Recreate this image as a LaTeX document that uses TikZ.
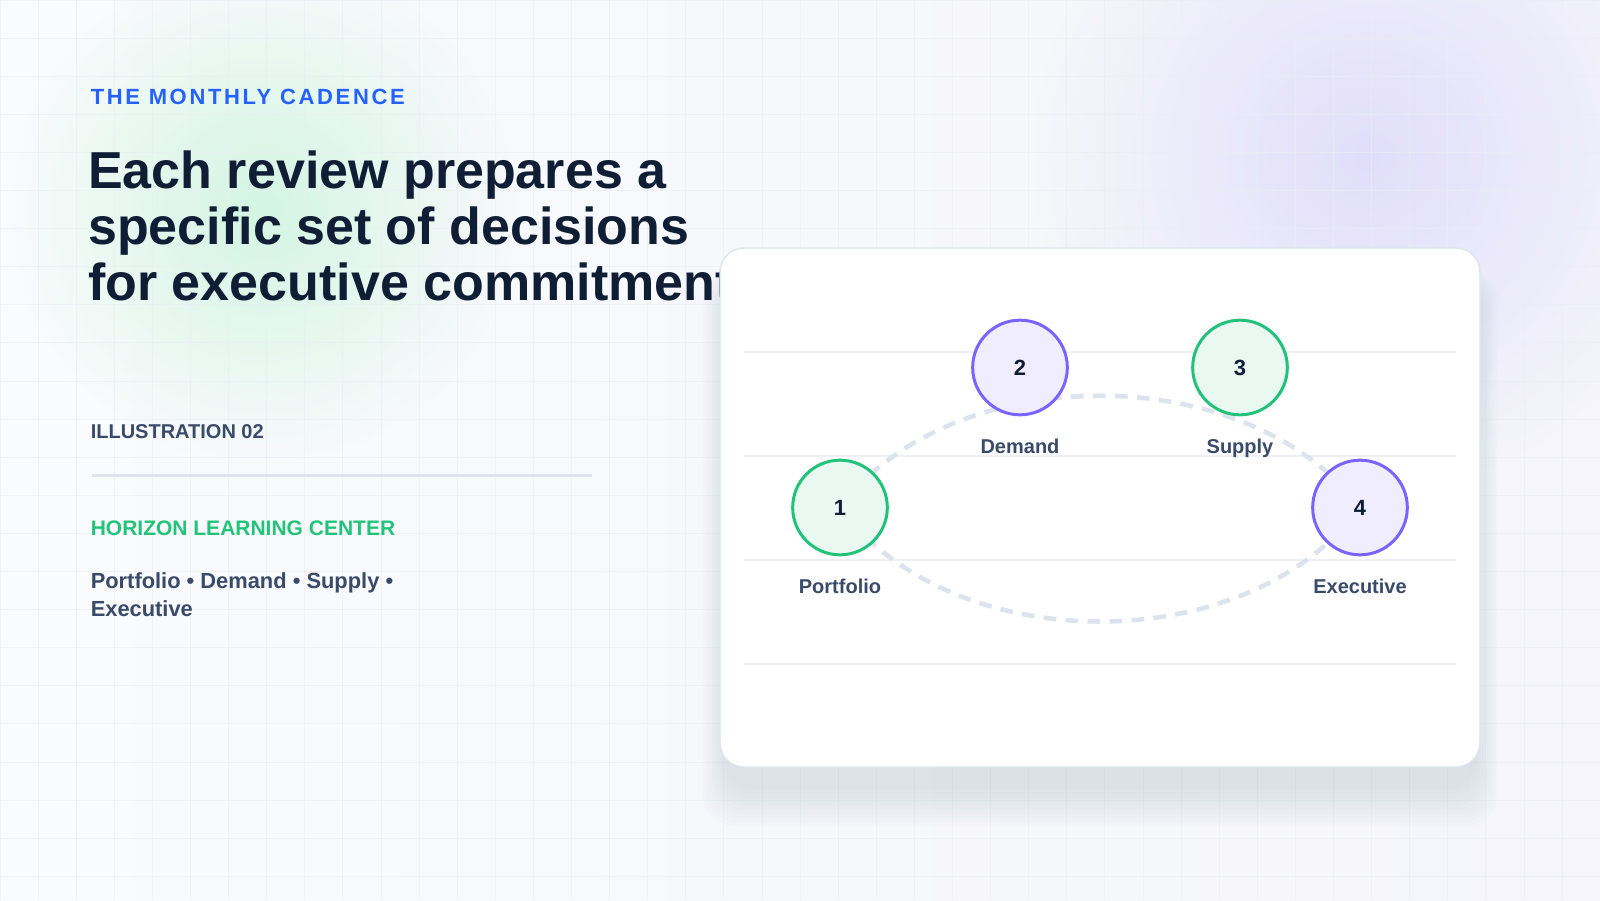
\documentclass[tikz,border=0pt]{standalone}
\usepackage{fontspec}
\setmainfont{Liberation Sans}
\newfontfamily\spacedfont[LetterSpace=12]{Liberation Sans}
\usepackage{tikz}
\usetikzlibrary{positioning}
\usetikzlibrary{fadings}
\definecolor{ink}{HTML}{0F1D35}
\definecolor{slate}{HTML}{3A4A69}
\definecolor{kickerblue}{HTML}{2461FF}
\definecolor{brandgreen}{HTML}{22C47A}
\definecolor{mint}{HTML}{23C27B}
\definecolor{mintfill}{HTML}{E9F9F2}
\definecolor{lilac}{HTML}{7A64FF}
\definecolor{lilacfill}{HTML}{EFEDFF}
\definecolor{dashc}{HTML}{DCE3EC}
\definecolor{rulec}{HTML}{EDF1F6}
\definecolor{dividerc}{HTML}{DDE4EE}
\definecolor{cardline}{HTML}{DEE5EE}
\definecolor{shadowc}{HTML}{64748B}
\definecolor{gridc}{HTML}{E9EEF4}
\definecolor{bgleft}{HTML}{F9FBFC}
\definecolor{bgright}{HTML}{F5F5FB}
\definecolor{glowgreen}{HTML}{D3F5E2}
\definecolor{glowlilac}{HTML}{E2DEFA}
\pgfdeclarelayer{bg}
\pgfdeclarelayer{links}
\pgfsetlayers{bg,links,main}
\tikzfading[name = glowfade, inner color = transparent!0, outer color = transparent!100]
\tikzset{phase/.style = {circle, line width = 2.25pt, minimum size = 71pt, inner sep = 0,
                         font = \fontsize{16.5}{18}\selectfont\bfseries, text = ink}}
\tikzset{phasegreen/.style = {phase, draw = mint, fill = mintfill}}
\tikzset{phasepurple/.style = {phase, draw = lilac, fill = lilacfill}}
\tikzset{tag/.style = {inner sep = 0, text height = 11pt, text depth = 3.5pt,
                       font = \fontsize{15}{18}\selectfont\bfseries, text = slate}}
\tikzset{cycleline/.style = {line width = 3.4pt, draw = dashc, dash pattern = on 9.5pt off 7pt}}
\tikzset{rule/.style = {line width = 1.5pt, draw = rulec}}
\tikzset{gridline/.style = {line width = 0.75pt, draw = gridc, opacity = 0.6}}
\tikzset{leftcol/.style = {anchor = base west, inner sep = 0}}

\begin{document}
\begin{tikzpicture}[x = 0.75pt, y = -0.75pt]
      \useasboundingbox (0, 0) rectangle (1600, 900);
      \begin{pgfonlayer}{bg}
        \shade [left color = bgleft, right color = bgright] (0, 0) rectangle (1600, 900);
        \fill [glowgreen, path fading = glowfade] (262, 210) circle (190pt);
        \fill [glowlilac, path fading = glowfade] (1367, 157) circle (250pt);
        \foreach \gx in {0, 38.1, ..., 1600} \draw [gridline] (\gx, 0) -- (\gx, 900);
        \foreach \gy in {0, 38.1, ..., 900} \draw [gridline] (0, \gy) -- (1600, \gy);
        \node [leftcol, font = \fontsize{16.5}{20}\selectfont\spacedfont\bfseries, text = kickerblue] (kicker) at (90.5, 104) {THE MONTHLY CADENCE};
        \foreach \line [count = \i] in {Each review prepares a, specific set of decisions, for executive commitment}
          \node [leftcol, font = \fontsize{39}{42}\selectfont\bfseries, text = ink] (head\i) at (88, {188.5 + 56 * (\i - 1)}) {\line};
        \node [leftcol, font = \fontsize{15}{18}\selectfont\bfseries, text = slate] (meta) at (90.5, 438.3) {ILLUSTRATION 02};
        \draw [line width = 2.5pt, dividerc] (92, 475.7) -- (592, 475.7);
        \node [leftcol, font = \fontsize{15.75}{18}\selectfont\bfseries, text = brandgreen] (brand) at (90.5, 535) {HORIZON LEARNING CENTER};
        \node [leftcol, font = \fontsize{16.4}{18}\selectfont\bfseries, text = slate] (summary1) at (90.5, 588.3) {Portfolio • Demand • Supply •};
        \node [leftcol, font = \fontsize{16.4}{18}\selectfont\bfseries, text = slate] (summary2) at (90.5, 616.7) {Executive};
        \foreach \s in {0, 4, ..., 36}
          \fill [shadowc, opacity = 0.014, rounded corners = 24pt] ({724 - 0.6 * \s}, {280 - 0.3 * \s}) rectangle ({1476 + 0.6 * \s}, {790 + \s});
        \draw [fill = white, draw = cardline, line width = 1.1pt, rounded corners = 18pt] (720, 248) rectangle (1480, 767);
        \foreach \ly in {352, 456, 560, 664} \draw [rule] (744, \ly) -- (1456, \ly);
      \end{pgfonlayer}
      \node [phasegreen] (n1) at (840, 507.5) {1};
      \node [phasepurple] (n2) at (1020, 367.5) {2};
      \node [phasegreen] (n3) at (1240, 367.5) {3};
      \node [phasepurple] (n4) at (1360, 507.5) {4};
      \node [tag, below = 16.7pt of n1] (t1) {Portfolio};
      \node [tag, below = 16.7pt of n2] (t2) {Demand};
      \node [tag, below = 16.7pt of n3] (t3) {Supply};
      \node [tag, below = 16.7pt of n4] (t4) {Executive};
      \begin{pgfonlayer}{links}
        \draw [cycleline] (n1.center) .. controls +(112, -149) and +(-112, -149) .. (n4.center)
                                      .. controls +(-112, 152) and +(112, 152) .. (n1.center);
      \end{pgfonlayer}
    \end{tikzpicture}
\end{document}
